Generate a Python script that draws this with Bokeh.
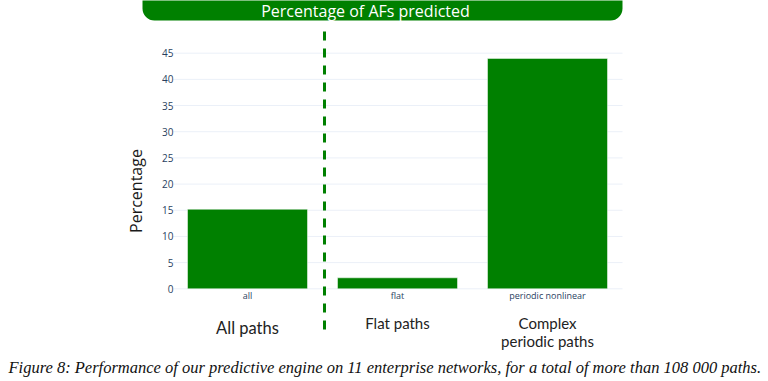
from bokeh.plotting import figure
from bokeh.models import Range1d, LinearAxis, FixedTicker, ColumnDataSource
from bokeh.core.properties import value
from bokeh.embed import file_html
from bokeh.resources import INLINE

# ---- data ----
categories = ["all", "flat", "periodic nonlinear"]
percentages = [15.2, 2.1, 44.0]
group_labels = ["All paths", "Flat paths", "Complex\nperiodic paths"]
title_text = "Percentage of AFs predicted"
y_label = "Percentage"
caption = ("Figure 8: Performance of our predictive engine on 11 enterprise networks, "
           "for a total of more than 108 000 paths.")
y_ticks = [0, 5, 10, 15, 20, 25, 30, 35, 40, 45]

GREEN = "#008000"
TICK_COLOR = "#2a3f5f"
GRID = "#ebf0f8"

W, H = 768, 381
X0, XU = 172, 150          # page x of category band start, px per category
Y0, YU = 288.3, 5.236      # page y of value 0, px per percent


def xd(px):
    return (px - X0) / XU


def yd(py):
    return (Y0 - py) / YU


xpos = [i + 0.5 for i in range(len(categories))]

p = figure(x_range=Range1d(xd(0), xd(W)), y_range=Range1d(yd(H), yd(0)),
           width=W, height=H, output_backend="svg", toolbar_location=None,
           min_border=0, x_axis_type=None, y_axis_type=None)
p.outline_line_color = None
p.background_fill_color = "white"
p.border_fill_color = "white"
p.xgrid.visible = False
p.ygrid.visible = False

# grid lines (only across the category band)
p.segment(x0=0, x1=len(categories), y0=y_ticks, y1=y_ticks,
          line_color=GRID, line_width=1)

# bars
src = ColumnDataSource(dict(x=xpos, top=percentages))
p.vbar(x="x", top="top", width=0.8, source=src, fill_color=GREEN,
       line_color="white", line_width=0.5)

# y axis, pinned at the left edge of the category band
yaxis = LinearAxis(fixed_location=0, ticker=FixedTicker(ticks=y_ticks))
yaxis.axis_line_color = None
yaxis.major_tick_line_color = None
yaxis.minor_tick_line_color = None
yaxis.major_label_text_font = "Open Sans"
yaxis.major_label_text_font_size = "10px"
yaxis.major_label_text_color = TICK_COLOR
yaxis.major_label_standoff = -7
yaxis.axis_label = y_label
yaxis.axis_label_text_font = "Open Sans"
yaxis.axis_label_text_font_style = "normal"
yaxis.axis_label_text_font_size = "16px"
yaxis.axis_label_text_color = "#1a1a1a"
yaxis.axis_label_standoff = 12
p.add_layout(yaxis, "left")

# x axis with category names, pinned at value 0
xaxis = LinearAxis(fixed_location=0, ticker=FixedTicker(ticks=xpos))
xaxis.major_label_overrides = {x: c for x, c in zip(xpos, categories)}
xaxis.axis_line_color = None
xaxis.major_tick_line_color = None
xaxis.minor_tick_line_color = None
xaxis.major_label_text_font = "Open Sans"
xaxis.major_label_text_font_size = "9px"
xaxis.major_label_text_color = TICK_COLOR
xaxis.major_label_standoff = -6
p.add_layout(xaxis, "below")

# dashed separator between "all" and the rest
p.segment(x0=xd(324), x1=xd(324), y0=yd(31), y1=yd(333),
          line_color=GREEN, line_width=3, line_dash="9 8")

# group labels below the axis
gsrc = ColumnDataSource(dict(x=xpos, y=[yd(327), yd(322), yd(331)],
                             text=group_labels,
                             size=["16.5px", "15px", "15px"]))
p.text(x="x", y="y", text="text", source=gsrc, text_align="center",
       text_baseline="middle", text_font=value("Lato"),
       text_font_size="size", text_color="#222222", text_line_height=1.0)

# title banner
p.quad(left=xd(142), right=xd(622), top=yd(-30), bottom=yd(20),
       fill_color=GREEN, line_color=None, border_radius=12)
p.text(x=[xd(365)], y=[yd(10)], text=[title_text], text_align="center",
       text_baseline="middle", text_font=value("Open Sans"),
       text_font_size="16px", text_color="white")

# caption
p.text(x=[xd(8)], y=[yd(367)], text=[caption], text_align="left",
       text_baseline="middle", text_font=value("Liberation Serif"),
       text_font_style="italic", text_font_size="16.5px", text_color="#111111")

open("out.html", "w").write(file_html(p, INLINE))
